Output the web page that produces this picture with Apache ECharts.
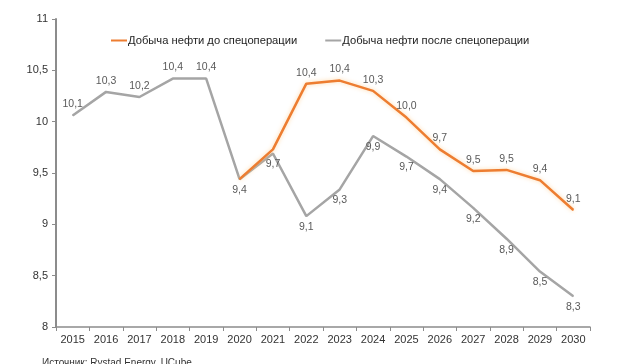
<!DOCTYPE html>
<html><head><meta charset="utf-8">
<script src="https://cdn.jsdelivr.net/npm/echarts@6/dist/echarts.min.js"></script>
<style>html,body{margin:0;padding:0;background:#fff}#c{width:620px;height:364px}</style>
</head><body><div id="c"></div>
<script>
var years = ['2015','2016','2017','2018','2019','2020','2021','2022','2023','2024','2025','2026','2027','2028','2029','2030'];
var beforeOp = [null,null,null,null,null,9.44,9.73,10.37,10.40,10.30,10.04,9.73,9.52,9.53,9.43,9.14];
var afterOp = [10.06,10.29,10.24,10.42,10.42,9.44,9.69,9.08,9.34,9.86,9.66,9.44,9.16,8.86,8.54,8.30];
var seriesNames = ['Добыча нефти до спецоперации','Добыча нефти после спецоперации'];
var sourceText = 'Источник: Rystad Energy, UCube';

function fmt(v){ return v.toFixed(1).replace('.', ','); }

var FONT = 'Liberation Sans, Arial, sans-serif';
var chart = echarts.init(document.getElementById('c'), null, {renderer:'canvas'});
chart.setOption({
  animation:false,
  textStyle:{fontFamily:FONT},
  grid:{left:56,right:30,top:19,bottom:37},
  legend:{
    top:30,left:106,itemGap:28,itemWidth:16,itemHeight:2,
    icon:'rect',
    textStyle:{fontSize:11.2,color:'#222',padding:[0,0,0,-4]},
    data:[{name:seriesNames[0]},{name:seriesNames[1]}]
  },
  xAxis:{
    type:'category',data:years,boundaryGap:true,
    axisLine:{lineStyle:{color:'#8c8c8c',width:1.5}},
    axisTick:{show:true,length:4,lineStyle:{color:'#8c8c8c'}},
    axisLabel:{color:'#333',fontSize:11,margin:7}
  },
  yAxis:{
    type:'value',min:8,max:11,interval:0.5,
    axisLine:{show:true,lineStyle:{color:'#8c8c8c',width:2}},
    axisTick:{show:true,length:4,lineStyle:{color:'#8c8c8c'}},
    splitLine:{show:false},
    axisLabel:{color:'#333',fontSize:11,margin:8,formatter:function(v){return String(v).replace('.',',');}}
  },
  series:[
    {
      name:seriesNames[1],type:'line',symbol:'circle',symbolSize:1,showSymbol:true,z:2,
      data:afterOp.map(function(v,i){ return {value:v,label:{position: i>=5 ? 'bottom':'top'}}; }),
      lineStyle:{color:'#a5a5a5',width:2.5},itemStyle:{color:'#a5a5a5'},
      label:{show:true,fontSize:10.5,color:'#595959',distance:5,
        formatter:function(p){return fmt(p.value);}},
      labelLayout:{hideOverlap:false}
    },
    {
      name:seriesNames[0],type:'line',data:beforeOp,symbol:'circle',symbolSize:1,showSymbol:true,z:3,
      lineStyle:{color:'#ed7d31',width:2.5,shadowColor:'rgba(255,200,130,0.7)',shadowBlur:4},
      itemStyle:{color:'#ed7d31'},
      label:{show:true,fontSize:10.5,color:'#595959',distance:5,position:'top',
        formatter:function(p){ return p.dataIndex>=7 ? fmt(p.value) : ''; }},
      labelLayout:{hideOverlap:false}
    }
  ],
  graphic:[
    {type:'text',left:42,top:358,style:{text:sourceText,fontSize:10,fill:'#333',fontFamily:FONT}}
  ]
});
</script></body></html>
